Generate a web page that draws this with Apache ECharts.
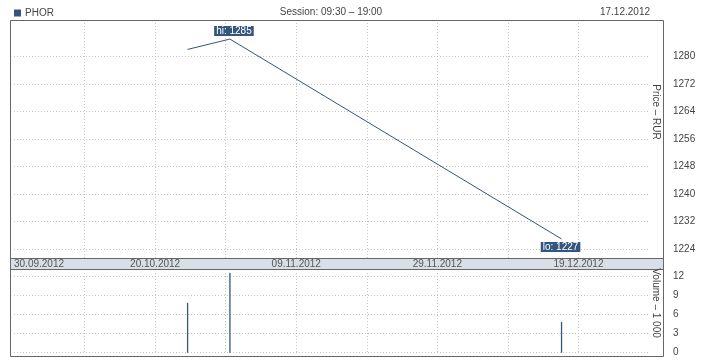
<!DOCTYPE html>
<html>
<head>
<meta charset="utf-8">
<script src="https://cdn.jsdelivr.net/npm/echarts@6/dist/echarts.min.js"></script>
<style>
html,body{margin:0;padding:0;background:#fff;}
#chart{width:718px;height:360px;}
</style>
</head>
<body>
<div id="chart"></div>
<script>
// ---- data ----
const ticker = 'PHOR';
const sessionText = 'Session: 09:30 – 19:00';
const headerDate = '17.12.2012';
const dates = ['25.10.2012', '31.10.2012', '17.12.2012'];
const prices = [1282, 1285, 1227];
const volumes = [7.8, 12.5, 4.8]; // thousands
const axisStartDate = '30.09.2012';
const axisDays = 90;
const dateTickLabels = ['30.09.2012', '20.10.2012', '09.11.2012', '29.11.2012', '19.12.2012'];
const priceTicks = [1224, 1232, 1240, 1248, 1256, 1264, 1272, 1280];
const volumeTicks = [0, 3, 6, 9, 12];
const priceAxisName = 'Price – RUR';
const volumeAxisName = 'Volume – 1 000';

// ---- helpers ----
const DAY = 86400000;
function parseDate(s) { const p = s.split('.'); return Date.UTC(+p[2], +p[1] - 1, +p[0]); }
const origin = parseDate(axisStartDate) + 9.5 * 3600000; // session start 09:30
const xs = dates.map(d => (parseDate(d) - origin) / DAY);

const FONT = "'Liberation Sans', Arial, sans-serif";
const FS = 10;
const TXT = '#444';
const GRIDC = '#c4c4c4';
const BLUE = '#34557e';

const hiIdx = prices.indexOf(Math.max(...prices));
const loIdx = prices.indexOf(Math.min(...prices));

const lineData = xs.map((x, i) => {
  const item = { value: [x, prices[i]] };
  if (i === hiIdx) item.label = { show: true, position: 'top', distance: 3, offset: [4, 0], formatter: 'hi: ' + prices[i] };
  if (i === loIdx) item.label = { show: true, position: 'bottom', distance: 3, offset: [-1, 0], formatter: 'lo: ' + prices[i] };
  return item;
});
const barData = xs.map((x, i) => [x, volumes[i]]);

const L = 14, R = 69;
function xAxisBase(gridIndex, extra) {
  return Object.assign({
    type: 'value', gridIndex, min: 0, max: axisDays, interval: 10,
    axisLine: { show: false }, axisTick: { show: false }, axisLabel: { show: false },
    splitLine: { show: false }
  }, extra || {});
}
const vSplit = { show: true, showMinLine: false, showMaxLine: false, lineStyle: { color: GRIDC, type: [1, 2], width: 1 } };
const hSplit = { show: true, lineStyle: { color: GRIDC, type: [1, 2], width: 1 } };

const option = {
  backgroundColor: '#fff',
  animation: false,
  textStyle: { fontFamily: FONT },
  legend: {
    left: 14, top: 8, padding: 0, icon: 'rect', itemWidth: 7, itemHeight: 7, itemGap: 4,
    data: [ticker], textStyle: { fontFamily: FONT, fontSize: FS, color: TXT, padding: [1, 0, 0, -1] }
  },
  grid: [
    { left: L, right: R, top: 20, bottom: 102 },           // price vertical gridlines + date labels
    { left: L, right: R, top: 56.3, bottom: 110.7 },       // price values
    { left: L, right: R, top: 273, bottom: 7 },            // volume vertical gridlines
    { left: L, right: R, top: 276, bottom: 7.3 }           // volume values
  ],
  xAxis: [
    xAxisBase(0, {
      splitLine: vSplit,
      axisLabel: {
        show: true, margin: 1, fontSize: FS, color: '#555', fontFamily: FONT, alignMinLabel: 'left',
        showMinLabel: true, showMaxLabel: true,
        formatter: v => (Math.round(v) % 20 === 0 && dateTickLabels[Math.round(v) / 20]) ? dateTickLabels[Math.round(v) / 20] : ''
      }
    }),
    xAxisBase(1),
    xAxisBase(2, { splitLine: vSplit }),
    xAxisBase(3)
  ],
  yAxis: [
    { type: 'value', gridIndex: 0, min: 0, max: 1, show: false },
    {
      type: 'value', gridIndex: 1, position: 'right',
      min: priceTicks[0], max: priceTicks[priceTicks.length - 1], interval: priceTicks[1] - priceTicks[0],
      axisLine: { show: false }, axisTick: { show: false },
      axisLabel: { margin: 24, fontSize: FS, color: TXT, fontFamily: FONT, formatter: v => String(v) },
      splitLine: hSplit
    },
    { type: 'value', gridIndex: 2, min: 0, max: 1, show: false },
    {
      type: 'value', gridIndex: 3, position: 'right',
      min: volumeTicks[0], max: volumeTicks[volumeTicks.length - 1], interval: volumeTicks[1] - volumeTicks[0],
      axisLine: { show: false }, axisTick: { show: false },
      axisLabel: { margin: 24, fontSize: FS, color: TXT, fontFamily: FONT, formatter: v => String(v) },
      splitLine: hSplit
    }
  ],
  series: [
    {
      name: ticker, type: 'line', xAxisIndex: 1, yAxisIndex: 1, data: lineData,
      clip: false, showSymbol: true, symbol: 'circle', symbolSize: 0.01,
      lineStyle: { color: BLUE, width: 1 }, itemStyle: { color: BLUE },
      label: {
        backgroundColor: BLUE, color: '#fff', fontSize: FS, fontFamily: FONT,
        padding: [0, 2, 0, 2], lineHeight: 10, height: 10
      },
      z: 5
    },
    {
      name: 'Volume', type: 'bar', xAxisIndex: 3, yAxisIndex: 3, data: barData,
      clip: false, barWidth: 1.3, itemStyle: { color: BLUE }
    }
  ],
  graphic: [
    { type: 'rect', z: -10, shape: { x: 10.5, y: 258.5, width: 653, height: 11 }, style: { fill: '#d9dfe6', stroke: '#666', lineWidth: 1 } },
    { type: 'rect', z: 10, shape: { x: 10.5, y: 20.5, width: 653, height: 336 }, style: { fill: 'none', stroke: '#666', lineWidth: 1 } },
    { type: 'text', x: 331, y: 12, style: { text: sessionText, font: FS + 'px ' + FONT, fill: TXT, textAlign: 'center', textVerticalAlign: 'middle' } },
    { type: 'text', x: 650, y: 12, style: { text: headerDate, font: FS + 'px ' + FONT, fill: TXT, textAlign: 'right', textVerticalAlign: 'middle' } },
    { type: 'text', x: 656, y: 112, rotation: -Math.PI / 2, style: { text: priceAxisName, font: FS + 'px ' + FONT, fill: TXT, textAlign: 'center', textVerticalAlign: 'middle' } },
    { type: 'text', x: 656, y: 303, rotation: -Math.PI / 2, style: { text: volumeAxisName, font: FS + 'px ' + FONT, fill: TXT, textAlign: 'center', textVerticalAlign: 'middle' } }
  ]
};

const chart = echarts.init(document.getElementById('chart'), null, { renderer: 'canvas' });
chart.setOption(option);
</script>
</body>
</html>
